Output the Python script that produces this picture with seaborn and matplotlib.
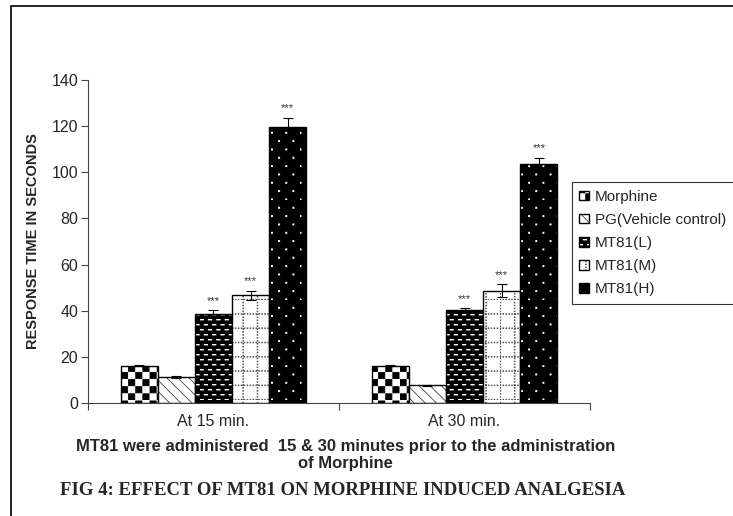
import warnings
import numpy as np
import pandas as pd
import matplotlib
matplotlib.use("Agg")
import matplotlib.pyplot as plt
import matplotlib.hatch as mhatch
from matplotlib.patches import Rectangle
from matplotlib.path import Path
import seaborn as sns

warnings.filterwarnings("ignore")

# Données
groups = ["At 15 min.", "At 30 min."]
treatments = ["Morphine", "PG(Vehicle control)", "MT81(L)", "MT81(M)", "MT81(H)"]
mean_15 = [16.2, 11.3, 38.6, 46.7, 119.8]
mean_30 = [16.2, 7.6, 40.2, 48.7, 103.4]
sem_15 = [0.3, 0.5, 1.6, 2.0, 3.9]
sem_30 = [0.3, 0.4, 0.9, 2.8, 2.9]
stars_15 = ["", "", "***", "***", "***"]
stars_30 = ["", "", "***", "***", "***"]

# Style des barres (fond, motif, couleur du motif)
face = {"Morphine": "white", "PG(Vehicle control)": "white", "MT81(L)": "black",
        "MT81(M)": "white", "MT81(H)": "black"}
motifs = ["c", "\\\\\\", "d", "g", "p"]
motif_colors = ["black", "#444444", "white", "#555555", "white"]


# Motifs en blocs (damier, tirets, pointillés) qui n'existent pas dans matplotlib
class Tiles(mhatch.HatchPatternBase):
    # par caractère : (blocs par rangée, rangées, décalage, largeur, hauteur)
    layouts = {
        "c": [(7, 14, True, 0.062, 0.062)],
        "d": [(12, 20, True, 0.034, 0.006)],
        "p": [(7, 12, True, 0.011, 0.011)],
        "g": [(34, 7, False, 0.007, 0.007), (7, 34, False, 0.007, 0.007)],
    }

    def __init__(self, hatch, density):
        self.blocks = []
        for ch, layers in self.layouts.items():
            if ch not in hatch:
                continue
            for nx, ny, stagger, w, h in layers:
                for j in range(ny):
                    shift = 0.5 / nx if (stagger and j % 2) else 0.0
                    for i in range(nx):
                        self.blocks.append((i / nx + shift, j / ny, w, h))
        self.num_vertices = 5 * len(self.blocks)

    def set_vertices_and_codes(self, vertices, codes):
        for k, (x0, y0, w, h) in enumerate(self.blocks):
            vertices[5 * k:5 * k + 5] = [[x0, y0], [x0 + w, y0], [x0 + w, y0 + h],
                                         [x0, y0 + h], [x0, y0]]
            codes[5 * k:5 * k + 5] = [Path.MOVETO, Path.LINETO, Path.LINETO,
                                      Path.LINETO, Path.CLOSEPOLY]


mhatch._hatch_types.append(Tiles)

df = pd.DataFrame({
    "group": np.repeat(groups, len(treatments)),
    "treatment": treatments * len(groups),
    "mean": mean_15 + mean_30,
    "sem": sem_15 + sem_30,
    "stars": stars_15 + stars_30,
})

sns.set_style("white")
plt.rcParams["font.family"] = ["Liberation Sans", "DejaVu Sans"]
plt.rcParams["hatch.linewidth"] = 0.6

fig = plt.figure(figsize=(7.33, 5.16), dpi=100)
ax = fig.add_axes([0.120, 0.219, 0.685, 0.626])

sns.barplot(data=df, x="group", y="mean", hue="treatment", order=groups,
            hue_order=treatments, palette=face, width=0.74, saturation=1,
            errorbar=None, edgecolor="black", linewidth=1.0, legend=False, ax=ax)

bar_conts = list(ax.containers)
for i, cont in enumerate(bar_conts):
    sub = df[df["treatment"] == treatments[i]].set_index("group").loc[groups]
    for p, m, e, s in zip(cont.patches, sub["mean"], sub["sem"], sub["stars"]):
        p.set_hatch(motifs[i])
        p._hatch_color = matplotlib.colors.to_rgba(motif_colors[i])
        xc = p.get_x() + p.get_width() / 2
        ax.errorbar(xc, m, yerr=e, fmt="none", ecolor="black", elinewidth=0.8,
                    capsize=3.5, capthick=0.8, zorder=5)
        if s:
            ax.annotate(s, (xc, m + e), xytext=(0, 3), textcoords="offset points",
                        ha="center", va="bottom", fontsize=8, color="#333333")

ax.set_xlim(-0.5, 1.5)
ax.set_ylim(0, 140)
ax.set_yticks(range(0, 141, 20))
ax.set_xticks([0, 1])
ax.set_xticklabels(groups)
ax.set_xticks([-0.5, 0.5, 1.5], minor=True)
ax.tick_params(axis="x", which="major", length=0, pad=8, labelsize=11.5)
ax.tick_params(axis="x", which="minor", length=5, width=0.8, direction="out",
               bottom=True, color="#444444")
ax.tick_params(axis="y", length=5, width=0.8, direction="out", left=True, pad=2,
               color="#444444", labelsize=11.5)
sns.despine(ax=ax)
for side in ["left", "bottom"]:
    ax.spines[side].set_color("#444444")
    ax.spines[side].set_linewidth(0.8)

ax.set_ylabel("RESPONSE TIME IN SECONDS", fontsize=10.5, fontweight="bold", labelpad=8)
ax.set_xlabel("")

fig.text(0.471, 0.118, "MT81 were administered  15 & 30 minutes prior to the administration\nof Morphine",
         ha="center", va="center", fontsize=12, fontweight="bold", linespacing=1.2)
fig.text(0.468, 0.05, "FIG 4: EFFECT OF MT81 ON MORPHINE INDUCED ANALGESIA",
         ha="center", va="center", fontsize=13.5, fontweight="bold",
         family=["Liberation Serif", "DejaVu Serif"])

handles = [c.patches[0] for c in bar_conts]
leg = fig.legend(handles, treatments, loc="upper left", bbox_to_anchor=(0.780, 0.647),
                 bbox_transform=fig.transFigure, borderaxespad=0, fancybox=False,
                 frameon=True, fontsize=11, handlelength=0.6, handleheight=0.6,
                 handletextpad=0.4, labelspacing=0.6, borderpad=0.5)
leg.get_frame().set_edgecolor("black")
leg.get_frame().set_linewidth(0.8)

# Cadre de la figure (haut et gauche)
fig.patches.append(Rectangle((11 / 733, -0.1), 1.2, 1.1 - 6 / 516, fill=False,
                             edgecolor="black", linewidth=1.2,
                             transform=fig.transFigure, figure=fig))

fig.savefig("out.png", dpi=100)
